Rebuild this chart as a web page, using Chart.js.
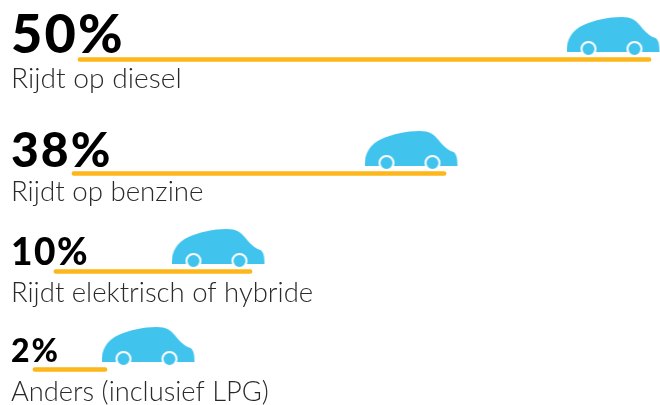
<!DOCTYPE html>
<html>
<head>
<meta charset="utf-8">
<title>Rijdt op</title>
<script src="https://cdn.jsdelivr.net/npm/chart.js@4"></script>
<style>
  html, body { margin: 0; padding: 0; background: #fff; }
  canvas { display: block; }
</style>
</head>
<body>
<canvas id="fuelChart" width="660" height="405"></canvas>
<script>
// Data
const categories = ['Rijdt op diesel', 'Rijdt op benzine', 'Rijdt elektrisch of hybride', 'Anders (inclusief LPG)'];
const shares = [50, 38, 10, 2];
// the yellow lines are not to scale in the original, so their ends are read off directly
const lineStart = [78, 72, 54, 33];
const lineEnd = [651, 446, 252, 107];
const carCentre = [613.5, 411.5, 218.5, 148.5];

// Layout of the rows
const rowY = [59.5, 173.5, 271.5, 369.5];
const shareSize = [54, 48, 37, 32];
const shareGap = [2.2, 2, 1.5, 2];
const shareBase = [53, 167, 265, 362];
const labelSize = [28.2, 27.7, 27.5, 27.3];
const labelBase = [88, 201, 302, 401];

function makeCar() {
  const c = document.createElement('canvas');
  c.width = 94;
  c.height = 40;
  const g = c.getContext('2d');
  g.fillStyle = '#40C4EE';
  g.beginPath();
  g.moveTo(0, 35);
  g.bezierCurveTo(0, 22, 6, 13, 17, 8);
  g.bezierCurveTo(28, 3, 42, 0, 55, 0);
  g.bezierCurveTo(65, 0, 69, 3, 74, 9);
  g.bezierCurveTo(79, 15, 83, 19, 89, 21);
  g.bezierCurveTo(92, 23, 93, 27, 93, 35);
  g.closePath();
  g.fill();
  [22, 68].forEach(x => {
    g.beginPath();
    g.arc(x, 32, 7, 0, Math.PI * 2);
    g.fillStyle = '#40C4EE';
    g.fill();
    g.lineWidth = 2;
    g.strokeStyle = '#fff';
    g.stroke();
  });
  return c;
}

// Percentages and row labels
const rowText = {
  id: 'rowText',
  afterDatasetsDraw(chart) {
    const { ctx, scales } = chart;
    ctx.save();
    ctx.textAlign = 'left';
    ctx.textBaseline = 'alphabetic';
    categories.forEach((name, i) => {
      ctx.fillStyle = '#000';
      ctx.font = `900 ${shareSize[i]}px Lato`;
      ctx.letterSpacing = shareGap[i] + 'px';
      ctx.fillText(shares[i] + '%', scales.x.getPixelForValue(11), scales.y.getPixelForValue(shareBase[i]));
      ctx.fillStyle = '#2a2a2a';
      ctx.font = `300 ${labelSize[i]}px Lato`;
      ctx.letterSpacing = '0px';
      ctx.fillText(name, scales.x.getPixelForValue(11), scales.y.getPixelForValue(labelBase[i]));
    });
    ctx.restore();
  }
};

new Chart(document.getElementById('fuelChart'), {
  type: 'bar',
  data: {
    datasets: [{
      type: 'scatter',
      data: carCentre.map((x, i) => ({ x: x, y: rowY[i] - 22.5 })),
      pointStyle: makeCar(),
      pointRadius: 20,
      clip: false,
      order: 2
    }, {
      data: lineStart.map((s, i) => ({ x: [s, lineEnd[i]], y: rowY[i] })),
      backgroundColor: '#FDB71A',
      barThickness: 4,
      borderRadius: 2,
      borderSkipped: false,
      order: 1
    }]
  },
  options: {
    indexAxis: 'y',
    responsive: false,
    animation: false,
    layout: { padding: 0, autoPadding: false },
    plugins: { legend: { display: false }, tooltip: { enabled: false } },
    scales: {
      x: { type: 'linear', min: 0, max: 660, display: false },
      y: { type: 'linear', min: 0, max: 405, reverse: true, offset: false, display: false }
    }
  },
  plugins: [rowText]
});
</script>
</body>
</html>
